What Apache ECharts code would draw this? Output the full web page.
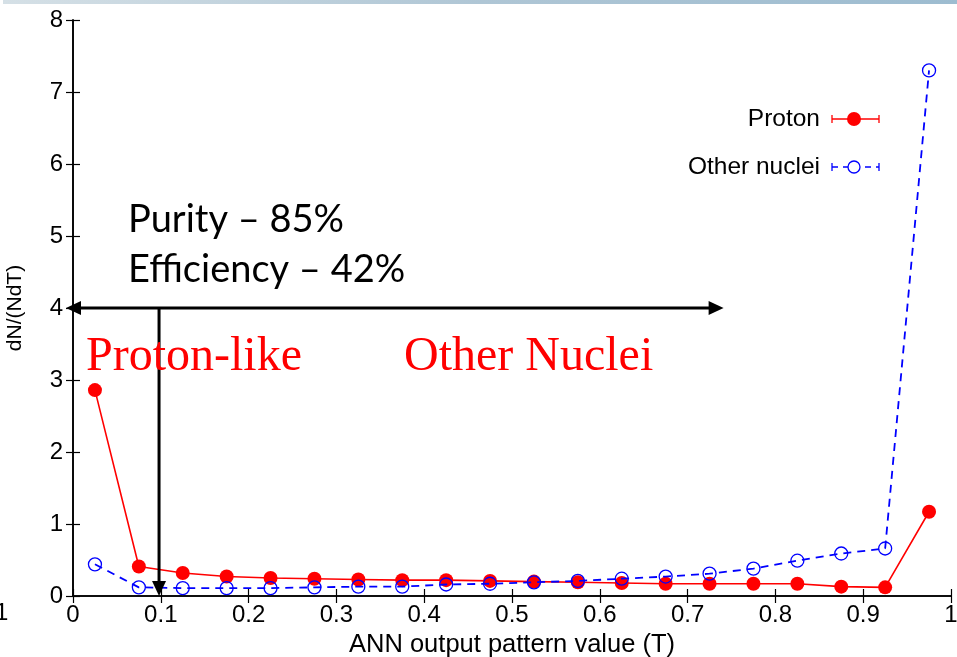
<!DOCTYPE html>
<html>
<head>
<meta charset="utf-8">
<script src="https://cdn.jsdelivr.net/npm/echarts@6/dist/echarts.min.js"></script>
<style>
  html, body { margin: 0; padding: 0; background: #ffffff; }
  #chart { width: 957px; height: 657px; }
</style>
</head>
<body>
<div id="chart"></div>
<script>
// ANN output pattern value T: bin centres
const binCenters = [0.025, 0.075, 0.125, 0.175, 0.225, 0.275, 0.325, 0.375, 0.425, 0.475,
                    0.525, 0.575, 0.625, 0.675, 0.725, 0.775, 0.825, 0.875, 0.925, 0.975];
// dN/(NdT) for protons
const protonValues = [2.86, 0.41, 0.32, 0.27, 0.25, 0.24, 0.23, 0.22, 0.22, 0.21,
                      0.20, 0.19, 0.18, 0.17, 0.17, 0.17, 0.17, 0.13, 0.12, 1.17];
// dN/(NdT) for other nuclei
const otherNucleiValues = [0.44, 0.12, 0.11, 0.11, 0.11, 0.12, 0.13, 0.13, 0.16, 0.17,
                           0.19, 0.21, 0.24, 0.27, 0.31, 0.38, 0.49, 0.59, 0.66, 7.30];

const seriesNames = ['Proton', 'Other nuclei'];
const xTickValues = [0, 0.1, 0.2, 0.3, 0.4, 0.5, 0.6, 0.7, 0.8, 0.9, 1];
const yTickValues = [0, 1, 2, 3, 4, 5, 6, 7, 8];

// Selection cut and the two regions it separates (data units)
const cutValue = 0.098;
const spanArrow = { from: -0.008, to: 0.741, level: 4 };
const statLines = ['Purity \u2013 85%', 'Efficiency \u2013 42%'];
const regionLabels = ['Proton-like', 'Other Nuclei'];

const chart = echarts.init(document.getElementById('chart'), null, { renderer: 'canvas' });

const axisFont = 'Liberation Sans, Arial, sans-serif';
const tickStyle = { show: true, inside: true, length: 7, lineStyle: { color: '#000', width: 1.2 } };
const lineAx = { show: true, lineStyle: { color: '#000', width: 1.6 } };

const option = {
  animation: false,
  backgroundColor: '#ffffff',
  textStyle: { fontFamily: axisFont },
  grid: { left: 73, right: 6, top: 20, bottom: 61, containLabel: false, outerBoundsMode: 'none' },
  xAxis: [
    {
      type: 'value', min: xTickValues[0], max: xTickValues[xTickValues.length - 1], interval: 0.1,
      position: 'bottom',
      name: 'ANN output pattern value (T)', nameLocation: 'middle', nameGap: 31,
      nameTextStyle: { color: '#000', fontSize: 25.5, fontFamily: axisFont },
      axisLine: lineAx, axisTick: tickStyle, splitLine: { show: false },
      axisLabel: { color: '#000', fontSize: 24, margin: 7, fontFamily: axisFont,
                   formatter: v => (v === 0 || v === 1) ? String(v) : v.toFixed(1) }
    },
    {
      type: 'value', min: 0, max: 1, interval: 0.1, position: 'top',
      axisLine: lineAx, axisTick: tickStyle, axisLabel: { show: false }, splitLine: { show: false }
    }
  ],
  yAxis: [
    {
      type: 'value', min: yTickValues[0], max: yTickValues[yTickValues.length - 1], interval: 1,
      position: 'left',
      name: 'dN/(NdT)', nameLocation: 'middle', nameGap: 47, nameRotate: 90,
      nameTextStyle: { color: '#000', fontSize: 21, fontFamily: axisFont },
      axisLine: lineAx, axisTick: tickStyle, splitLine: { show: false },
      axisLabel: { color: '#000', fontSize: 24, margin: 10, fontFamily: axisFont }
    },
    {
      type: 'value', min: 0, max: 8, interval: 1, position: 'right',
      axisLine: lineAx, axisTick: tickStyle, axisLabel: { show: false }, splitLine: { show: false }
    }
  ],
  series: [
    {
      name: seriesNames[0], type: 'line', xAxisIndex: 0, yAxisIndex: 0,
      data: binCenters.map((x, i) => [x, protonValues[i]]),
      symbol: 'circle', symbolSize: 14,
      itemStyle: { color: '#ff0000' },
      lineStyle: { color: '#ff0000', width: 1.6 },
      z: 3
    },
    {
      name: seriesNames[1], type: 'line', xAxisIndex: 0, yAxisIndex: 0,
      data: binCenters.map((x, i) => [x, otherNucleiValues[i]]),
      symbol: 'circle', symbolSize: 13,
      itemStyle: { color: 'rgba(0,0,0,0)', borderColor: '#0000ff', borderWidth: 1.3 },
      lineStyle: { color: '#0000ff', width: 1.8, type: [8, 6] },
      z: 4
    }
  ]
};
chart.setOption(option);

function px(x, y) {
  return chart.convertToPixel({ xAxisIndex: 0, yAxisIndex: 0 }, [x, y]);
}

// Solid black arrow head: filled triangle pointing at (x2, y2)
function arrowHead(x1, y1, x2, y2) {
  const len = 15, half = 7;
  const dx = x2 - x1, dy = y2 - y1, d = Math.hypot(dx, dy);
  const ux = dx / d, uy = dy / d;
  const bx = x2 - ux * len, by = y2 - uy * len;
  return {
    type: 'polygon', z: 20,
    shape: { points: [[x2, y2], [bx - uy * half, by + ux * half], [bx + uy * half, by - ux * half]] },
    style: { fill: '#000' }
  };
}

const graphics = [];

// thin header band across the top
graphics.push({
  type: 'rect', z: 30, shape: { x: 3, y: 0, width: 954, height: 4 },
  style: { fill: new echarts.graphic.LinearGradient(0, 0, 1, 0, [
    { offset: 0, color: '#d5e0e6' }, { offset: 0.5, color: '#afc6d5' }, { offset: 1, color: '#9dbcd0' }
  ]) }
});

// horizontal double arrow spanning both regions
const hA = px(spanArrow.from, spanArrow.level);
const hB = px(spanArrow.to, spanArrow.level);
graphics.push({
  type: 'line', z: 19,
  shape: { x1: hA[0] + 10, y1: hA[1], x2: hB[0] - 10, y2: hB[1] },
  style: { stroke: '#000', lineWidth: 3 }
});
graphics.push(arrowHead(hB[0], hB[1], hA[0], hA[1]));
graphics.push(arrowHead(hA[0], hA[1], hB[0], hB[1]));

// vertical arrow marking the cut value
const vA = px(cutValue, spanArrow.level);
const vB = px(cutValue, 0);
graphics.push({
  type: 'line', z: 19,
  shape: { x1: vA[0], y1: vA[1], x2: vB[0], y2: vB[1] - 10 },
  style: { stroke: '#000', lineWidth: 3 }
});
graphics.push(arrowHead(vA[0], vA[1], vB[0], vB[1]));

// purity / efficiency text
statLines.forEach((t, i) => {
  graphics.push({
    type: 'text', z: 21, x: 128, y: 220 + i * 50,
    style: { text: t, fill: '#000', font: '38px Lato, "Open Sans", sans-serif',
             textAlign: 'left', textVerticalAlign: 'middle' }
  });
});

// region labels
[[86, regionLabels[0]], [404, regionLabels[1]]].forEach(([x, t]) => {
  graphics.push({
    type: 'text', z: 21, x: x, y: 357,
    style: { text: t, fill: '#ff0000', font: '48px "Liberation Serif", "Times New Roman", serif',
             textAlign: 'left', textVerticalAlign: 'middle' }
  });
});

// legend (key with error-bar caps)
const legX1 = 832, legX2 = 879, legDot = 854;
[
  { y: 119, name: seriesNames[0], color: '#ff0000', filled: true },
  { y: 167, name: seriesNames[1], color: '#0000ff', filled: false }
].forEach(e => {
  graphics.push({
    type: 'text', z: 21, x: 820, y: e.y,
    style: { text: e.name, fill: '#000', font: '24.5px ' + axisFont, textAlign: 'right', textVerticalAlign: 'middle' }
  });
  graphics.push({
    type: 'line', z: 21, shape: { x1: legX1, y1: e.y, x2: legX2, y2: e.y },
    style: { stroke: e.color, lineWidth: e.filled ? 1.4 : 1.6, lineDash: e.filled ? null : [6, 5] }
  });
  [legX1, legX2].forEach(cx => graphics.push({
    type: 'line', z: 21, shape: { x1: cx, y1: e.y - 4, x2: cx, y2: e.y + 4 },
    style: { stroke: e.color, lineWidth: 1.3 }
  }));
  graphics.push({
    type: 'circle', z: 22, shape: { cx: legDot, cy: e.y, r: e.filled ? 7 : 6 },
    style: e.filled ? { fill: e.color } : { fill: '#fff', stroke: e.color, lineWidth: 1.3 }
  });
});

// clipped tick label at the very left edge
graphics.push({
  type: 'text', z: 21, x: -5, y: 613,
  style: { text: '1', fill: '#000', font: '24px ' + axisFont, textAlign: 'left', textVerticalAlign: 'middle' }
});

chart.setOption({ graphic: graphics });
</script>
</body>
</html>
